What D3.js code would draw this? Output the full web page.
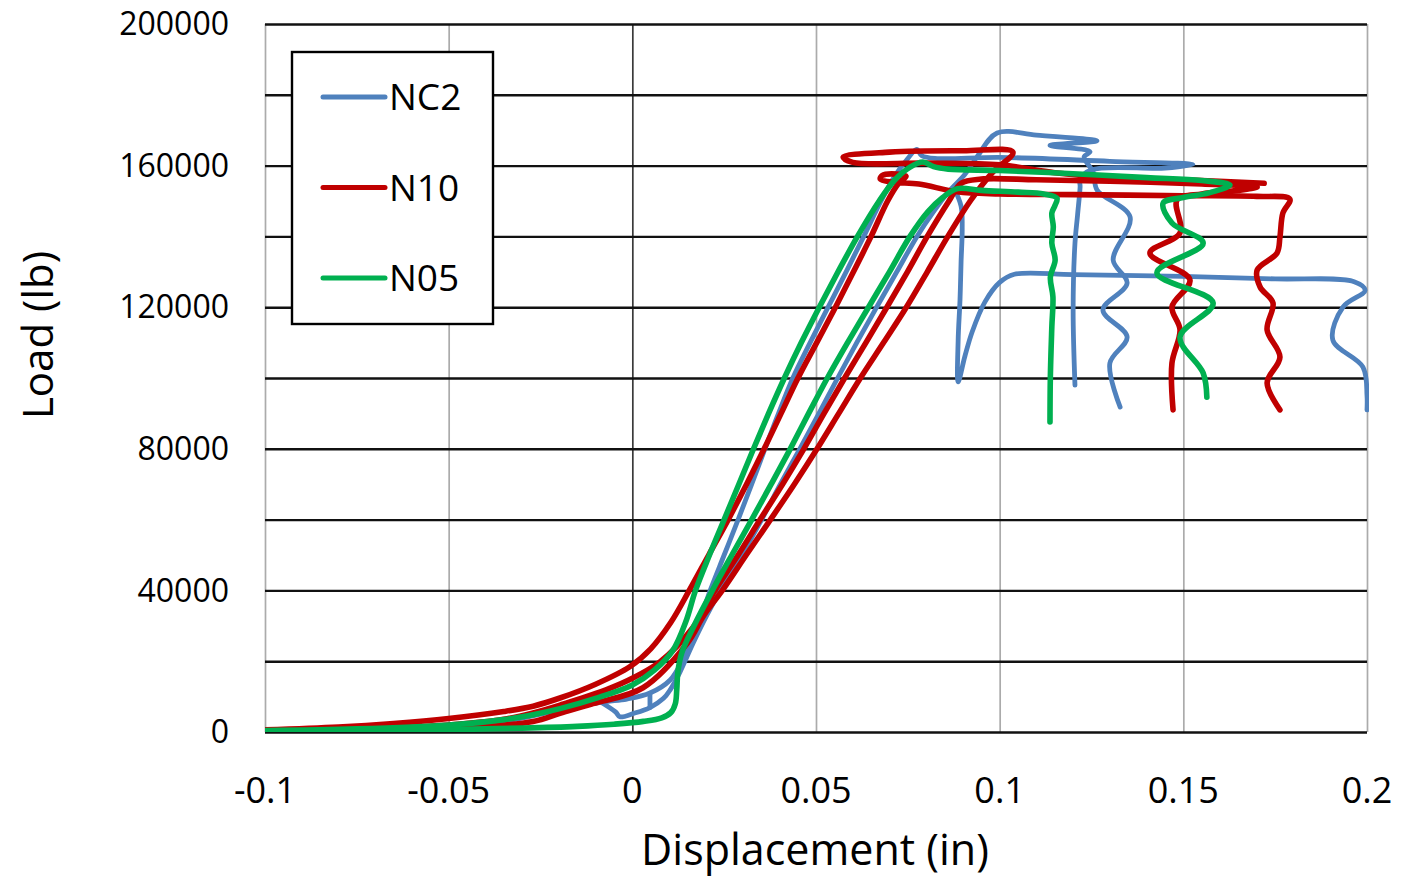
<!DOCTYPE html>
<html>
<head>
<meta charset="utf-8">
<script src="https://cdn.jsdelivr.net/npm/d3@7"></script>
<style>
body { margin: 0; background: #fff; }
svg { display: block; font-family: "Open Sans", sans-serif; }
</style>
</head>
<body>
<div></div>
<script>
var width = 1401;
var height = 879;

// axis ticks
var xTicks = [-0.1, -0.05, 0, 0.05, 0.1, 0.15, 0.2];
var yTicks = [0, 20000, 40000, 60000, 80000, 100000, 120000, 140000, 160000, 180000, 200000];
var yLabelTicks = [0, 40000, 80000, 120000, 160000, 200000];

var seriesNames = ['NC2', 'N10', 'N05'];
var seriesColors = ['#4F81BD', '#C00000', '#00B050'];

// each series: list of traced pieces, points are [displacement (in), load (lb)]
var nc2 = [
    [[-0.1, 300], [-0.075, 800], [-0.05, 1700], [-0.035, 3000], [-0.0197, 6200], [-0.008, 8500], [-0.0015, 9300],
     [0.0048, 11000], [0.0103, 14700], [0.0135, 20000], [0.0162, 26800], [0.019, 33500], [0.0212, 40000],
     [0.025, 50000], [0.0288, 60000], [0.0325, 70000], [0.0361, 80000], [0.0398, 90000], [0.0437, 100000],
     [0.0484, 110000], [0.0533, 120000], [0.0582, 130000], [0.063, 140000], [0.0677, 150000], [0.0714, 157000],
     [0.075, 162000], [0.0774, 164600], [0.0788, 162800], [0.083, 162000], [0.1, 162300], [0.13, 161200],
     [0.1526, 160300], [0.145, 159300], [0.125, 158800], [0.1219, 156000], [0.1219, 154000], [0.1212, 146000],
     [0.1205, 138100], [0.12, 119200], [0.1205, 98000]],
    [[-0.0085, 8400], [-0.0045, 5600], [-0.0034, 4300], [0.0005, 5300], [0.0048, 6900], [0.0085, 9500],
     [0.0103, 11900], [0.013, 17000], [0.0165, 25000], [0.0203, 33000], [0.024, 40000], [0.0298, 50000],
     [0.0352, 60000], [0.0403, 70000], [0.0456, 80000], [0.0508, 90000], [0.0559, 100000], [0.0611, 110000],
     [0.0665, 120000], [0.072, 130000], [0.0775, 140000], [0.082, 147000], [0.086, 152500], [0.0905, 157500],
     [0.0938, 162400], [0.0993, 169200], [0.11, 168600], [0.1265, 167000], [0.118, 166200], [0.1137, 165700],
     [0.1246, 163900], [0.123, 162500], [0.1255, 158000], [0.1265, 153100], [0.1355, 145500], [0.1309, 133300],
     [0.1347, 126800], [0.1281, 119200], [0.1347, 111600], [0.13, 104200], [0.1328, 91800]],
    [[0.0048, 6900], [0.0048, 11000]],
    [[0.0875, 153800], [0.0895, 148500], [0.0898, 142000], [0.0895, 133000], [0.0892, 122000], [0.0887, 110700],
     [0.0887, 98900], [0.0905, 106000], [0.0925, 113000], [0.096, 121500], [0.1, 127000], [0.104, 129300],
     [0.12, 129200], [0.15, 128700], [0.175, 128000], [0.1965, 127200], [0.1995, 124800], [0.1935, 120100],
     [0.1907, 110700], [0.1989, 103100], [0.2, 95000], [0.2, 91000]]
];

var n10 = [
    [[-0.1, 600], [-0.08, 1400], [-0.065, 2400], [-0.05, 3800], [-0.035, 5800], [-0.027, 7300], [-0.0197, 9600],
     [-0.01, 13500], [-0.0006, 18500], [0.005, 23500], [0.0105, 31000], [0.0155, 40000], [0.0208, 50000],
     [0.0261, 60000], [0.0311, 70000], [0.0359, 80000], [0.0405, 90000], [0.0451, 100000], [0.0502, 110000],
     [0.0553, 120000], [0.0602, 130000], [0.065, 140000], [0.0695, 150000], [0.0725, 155000], [0.0745, 157000],
     [0.072, 157600], [0.068, 157200], [0.0675, 156200], [0.071, 155300], [0.078, 154800], [0.0884, 152600],
     [0.1, 152000], [0.12, 151800], [0.15, 151500], [0.17, 151300], [0.179, 150500], [0.1771, 146600],
     [0.1763, 139800], [0.1755, 135300], [0.1701, 130500], [0.1709, 125700], [0.1744, 121200], [0.1728, 113600],
     [0.1763, 105900], [0.1728, 98600], [0.1763, 91000]],
    [[-0.1, 300], [-0.075, 800], [-0.05, 2000], [-0.035, 3600], [-0.027, 5400], [-0.0197, 7600], [-0.005, 12800],
     [0.0075, 19800], [0.0165, 29500], [0.0225, 40000], [0.0288, 50000], [0.0348, 60000], [0.0409, 70000],
     [0.0467, 80000], [0.0522, 90000], [0.0578, 100000], [0.0636, 110000], [0.0693, 120000], [0.0749, 130000],
     [0.0803, 140000], [0.0862, 150000], [0.0895, 155000], [0.095, 156200], [0.11, 156000], [0.13, 155600],
     [0.155, 154800], [0.1701, 154000], [0.165, 153000], [0.155, 152000], [0.1483, 150300], [0.1491, 141000],
     [0.1409, 135300], [0.1518, 127700], [0.1469, 120100], [0.1491, 113600], [0.1469, 104200], [0.1472, 91000]],
    [[-0.1, 200], [-0.07, 500], [-0.05, 900], [-0.027, 3000], [-0.0197, 5300], [-0.0107, 8000], [0.0029, 12500],
     [0.0149, 25000], [0.0195, 33000], [0.0245, 40000], [0.031, 50000], [0.0376, 60000], [0.0441, 70000],
     [0.0503, 80000], [0.0562, 90000], [0.0621, 100000], [0.0684, 110000], [0.0746, 120000], [0.0803, 130000],
     [0.0859, 140000], [0.092, 150000], [0.098, 158000], [0.1036, 163800], [0.09, 164200], [0.07, 163800],
     [0.0574, 162400], [0.06, 160900], [0.08, 160700], [0.1, 160200], [0.115, 158000], [0.13, 156600],
     [0.155, 155800], [0.172, 155000]]
];

var n05 = [
    [[-0.1, 300], [-0.07, 500], [-0.05, 700], [-0.03, 1100], [-0.015, 1600], [-0.005, 2200], [0.003, 3000],
     [0.008, 4000], [0.0105, 5500], [0.0117, 8000], [0.0121, 12000], [0.0124, 17000], [0.0135, 22500],
     [0.0168, 30000], [0.0218, 40000], [0.0271, 50000], [0.0325, 60000], [0.0378, 70000], [0.043, 80000],
     [0.048, 90000], [0.0531, 100000], [0.0586, 110000], [0.0643, 120000], [0.07, 130000], [0.0756, 140000],
     [0.0805, 147000], [0.0845, 151000], [0.0885, 153500], [0.095, 153000], [0.105, 152500], [0.112, 152000],
     [0.1156, 150800], [0.115, 148600], [0.1142, 146600], [0.1146, 142700], [0.1142, 138100], [0.1151, 133300],
     [0.1138, 128500], [0.1145, 122900], [0.1142, 114400], [0.1138, 100300], [0.1137, 87600]],
    [[-0.1, 400], [-0.075, 900], [-0.05, 2000], [-0.035, 3500], [-0.027, 4900], [-0.0197, 6600], [-0.01, 9500],
     [0.0, 13300], [0.006, 17500], [0.011, 23000], [0.0145, 31000], [0.0172, 40000], [0.021, 50000],
     [0.025, 60000], [0.029, 70000], [0.033, 80000], [0.0371, 90000], [0.0414, 100000], [0.046, 110000],
     [0.0509, 120000], [0.056, 130000], [0.0613, 140000], [0.0672, 150000], [0.0715, 156000], [0.0755, 159500],
     [0.0791, 161000], [0.082, 159700], [0.086, 159000], [0.1, 158600], [0.12, 157700], [0.14, 156600],
     [0.155, 155800], [0.1627, 154500], [0.157, 152300], [0.15, 151000], [0.1445, 149400], [0.1469, 143800],
     [0.1554, 138100], [0.1428, 129700], [0.1581, 121200], [0.1491, 111600], [0.1554, 101400], [0.1564, 94600]]
];

var seriesData = [nc2, n10, n05];

var svg = d3.select('div')
    .append('svg').attr('width', width).attr('height', height);

var plotLeft = 265, plotRight = 1367, plotTop = 24, plotBottom = 732;

var x = d3.scaleLinear().domain([-0.1, 0.2]).range([plotLeft, plotRight]);
var y = d3.scaleLinear().domain([0, 200000]).range([plotBottom, plotTop]);

// vertical grid from the x axis
var xGrid = svg.append('g')
    .attr('transform', 'translate(0,' + plotBottom + ')')
    .call(d3.axisBottom(x).tickValues(xTicks).tickSize(-(plotBottom - plotTop)).tickFormat(''));
xGrid.select('.domain').remove();
xGrid.selectAll('line')
    .attr('stroke', function (d) { return d === 0 ? '#3a3a3a' : '#ababab'; })
    .attr('stroke-width', 1.7);

// horizontal grid from the y axis
var yGrid = svg.append('g')
    .attr('transform', 'translate(' + plotLeft + ',0)')
    .call(d3.axisLeft(y).tickValues(yTicks).tickSize(-(plotRight - plotLeft)).tickFormat(''));
yGrid.select('.domain').remove();
yGrid.selectAll('line').attr('stroke', '#111').attr('stroke-width', 2.4);

// tick labels
svg.append('g').selectAll('text')
    .data(yLabelTicks)
    .enter().append('text')
    .attr('x', 229)
    .attr('y', function (d) { return y(d); })
    .attr('dy', '0.35em')
    .attr('text-anchor', 'end')
    .attr('font-size', 32)
    .attr('fill', '#000')
    .text(function (d) { return d; });

svg.append('g').selectAll('text')
    .data(xTicks)
    .enter().append('text')
    .attr('x', function (d) { return x(d); })
    .attr('y', 790)
    .attr('dy', '0.35em')
    .attr('text-anchor', 'middle')
    .attr('font-size', 36)
    .attr('fill', '#000')
    .text(function (d) { return String(d); });

// axis titles
svg.append('text')
    .attr('x', 815).attr('y', 850).attr('dy', '0.35em')
    .attr('text-anchor', 'middle')
    .attr('font-size', 43)
    .text('Displacement (in)');

svg.append('text')
    .attr('transform', 'translate(38,335) rotate(-90)')
    .attr('dy', '0.35em')
    .attr('text-anchor', 'middle')
    .attr('font-size', 42)
    .text('Load (lb)');

// curves
svg.append('clipPath').attr('id', 'plot')
    .append('rect').attr('x', plotLeft).attr('y', plotTop - 5)
    .attr('width', plotRight - plotLeft + 2).attr('height', plotBottom - plotTop + 5);

var line = d3.line()
    .x(function (d) { return x(d[0]); })
    .y(function (d) { return y(d[1]); })
    .curve(d3.curveCatmullRom.alpha(0.5));

var g = svg.append('g').attr('clip-path', 'url(#plot)');
seriesData.forEach(function (segs, i) {
    g.append('g')
        .selectAll('path')
        .data(segs)
        .enter()
        .append('path')
        .attr('d', line)
        .attr('fill', 'none')
        .attr('stroke', seriesColors[i])
        .attr('stroke-width', i === 0 ? 4.8 : 5.6)
        .attr('stroke-linejoin', 'round')
        .attr('stroke-linecap', 'round');
});

// legend
var legend = svg.append('g');
legend.append('rect')
    .attr('x', 292).attr('y', 52).attr('width', 201).attr('height', 272)
    .attr('fill', '#fff').attr('stroke', '#000').attr('stroke-width', 2.4);

var item = legend.selectAll('g.item')
    .data(seriesNames)
    .enter().append('g')
    .attr('class', 'item')
    .attr('transform', function (d, i) { return 'translate(0,' + (97 + i * 90.5) + ')'; });
item.append('line')
    .attr('x1', 323).attr('x2', 385)
    .attr('stroke', function (d, i) { return seriesColors[i]; })
    .attr('stroke-width', 5)
    .attr('stroke-linecap', 'round');
item.append('text')
    .attr('x', 389).attr('dy', '0.36em')
    .attr('font-size', 37)
    .text(function (d) { return d; });
</script>
</body>
</html>
